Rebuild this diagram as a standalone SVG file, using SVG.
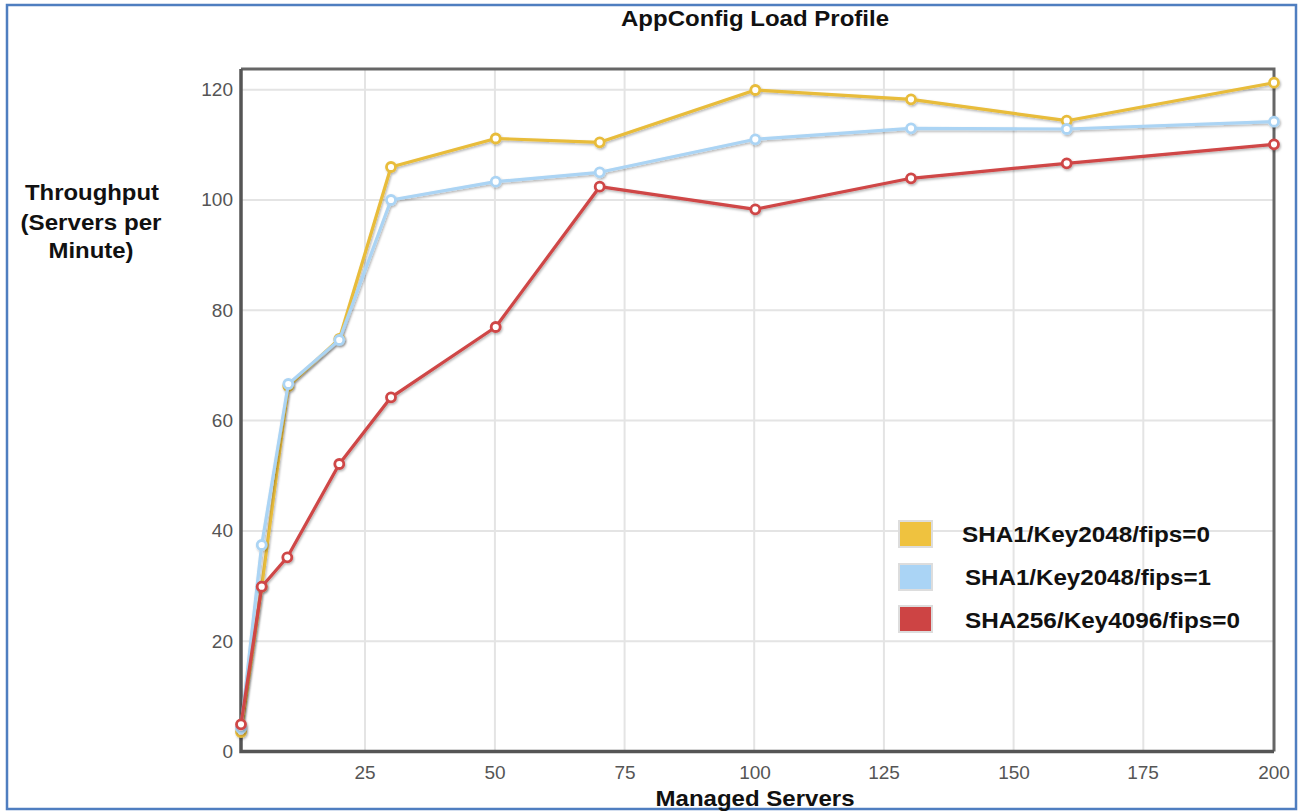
<svg xmlns="http://www.w3.org/2000/svg" width="1299" height="811" viewBox="0 0 1299 811">
<style>
.grid{stroke:#e4e4e4;stroke-width:2;fill:none}
.tick{font-family:"Liberation Sans",Arial,sans-serif;font-size:19px;fill:#555}
.lbl{font-family:"Liberation Sans",Arial,sans-serif;font-weight:bold;fill:#111}
.s{fill:none;stroke-width:3.2;stroke-linejoin:round}
.m{fill:#fff;stroke-width:2.8}
.y{stroke:#E8BC3A}
.b{stroke:#ABD4F4}
.r{stroke:#CF4646}
</style>
<defs>
<filter id="sh" x="-5%" y="-5%" width="110%" height="110%">
<feDropShadow dx="1" dy="1.5" stdDeviation="1" flood-color="#000" flood-opacity="0.3"/>
</filter>
</defs>
<rect x="0" y="0" width="1299" height="811" fill="#fff"/>
<rect x="7" y="5" width="1289" height="804" fill="none" stroke="#4F7EC0" stroke-width="2.5"/>
<text class="lbl" x="755" y="26" font-size="22" text-anchor="middle" textLength="268" lengthAdjust="spacingAndGlyphs">AppConfig Load Profile</text>
<g id="yaxis-title" class="lbl" font-size="22" text-anchor="middle">
<text x="92" y="200" textLength="134" lengthAdjust="spacingAndGlyphs">Throughput</text>
<text x="91" y="230" textLength="141" lengthAdjust="spacingAndGlyphs">(Servers per</text>
<text x="91" y="258" textLength="85" lengthAdjust="spacingAndGlyphs">Minute)</text>
</g>
<text class="lbl" x="755" y="806" font-size="22" text-anchor="middle" textLength="199" lengthAdjust="spacingAndGlyphs">Managed Servers</text>
<g id="grid">
<path class="grid" d="M365 69V751.5M494.9 69V751.5M624.6 69V751.5M754.2 69V751.5M883.9 69V751.5M1013.6 69V751.5M1143.3 69V751.5"/>
<path class="grid" d="M241 641.2H1274M241 530.9H1274M241 420.6H1274M241 310.3H1274M241 200H1274M241 89.7H1274"/>
</g>
<g id="frame">
<path d="M241 69H1274V751.5" fill="none" stroke="#666" stroke-width="3"/>
<path d="M241 69V751.5H1274" fill="none" stroke="#555" stroke-width="3.5"/>
</g>
<g id="ylabels" class="tick" text-anchor="end">
<text x="233" y="758">0</text>
<text x="233" y="648">20</text>
<text x="233" y="537">40</text>
<text x="233" y="427">60</text>
<text x="233" y="317">80</text>
<text x="233" y="206">100</text>
<text x="233" y="96">120</text>
</g>
<g id="xlabels" class="tick" text-anchor="middle">
<text x="365" y="779">25</text>
<text x="495" y="779">50</text>
<text x="625" y="779">75</text>
<text x="755" y="779">100</text>
<text x="884" y="779">125</text>
<text x="1014" y="779">150</text>
<text x="1143" y="779">175</text>
<text x="1274" y="779">200</text>
</g>
<g id="series-sha1-fips0" filter="url(#sh)">
<polyline class="s y" points="241,732 261.7,586.5 288.3,386 339.3,339 391,167 495.7,138.5 599.7,142.3 755.3,90 911,99.3 1066.7,120.7 1274,82.7"/>
<g class="m y">
<circle cx="241" cy="732" r="4.5"/><circle cx="261.7" cy="586.5" r="4.5"/><circle cx="288.3" cy="386" r="4.5"/><circle cx="339.3" cy="339" r="4.5"/><circle cx="391" cy="167" r="4.5"/><circle cx="495.7" cy="138.5" r="4.5"/><circle cx="599.7" cy="142.3" r="4.5"/><circle cx="755.3" cy="90" r="4.5"/><circle cx="911" cy="99.3" r="4.5"/><circle cx="1066.7" cy="120.7" r="4.5"/><circle cx="1274" cy="82.7" r="4.5"/>
</g>
</g>
<g id="series-sha1-fips1" filter="url(#sh)">
<polyline class="s b" points="241,728 261.7,545 288.3,384 339.3,340 391,200 495.7,181.7 599.7,172.3 755.3,139.3 911,128.3 1066.7,129 1274,121.7"/>
<g class="m b">
<circle cx="241" cy="728" r="4.5"/><circle cx="261.7" cy="545" r="4.5"/><circle cx="288.3" cy="384" r="4.5"/><circle cx="339.3" cy="340" r="4.5"/><circle cx="391" cy="200" r="4.5"/><circle cx="495.7" cy="181.7" r="4.5"/><circle cx="599.7" cy="172.3" r="4.5"/><circle cx="755.3" cy="139.3" r="4.5"/><circle cx="911" cy="128.3" r="4.5"/><circle cx="1066.7" cy="129" r="4.5"/><circle cx="1274" cy="121.7" r="4.5"/>
</g>
</g>
<g id="series-sha256-fips0" filter="url(#sh)">
<polyline class="s r" points="241,724.3 261.7,586.7 287.3,557.3 339.3,464 391,397.3 495.7,327 599.7,186.7 755.3,209.3 911,178.3 1066.7,163.3 1274,144.3"/>
<g class="m r">
<circle cx="241" cy="724.3" r="4.5"/><circle cx="261.7" cy="586.7" r="4.5"/><circle cx="287.3" cy="557.3" r="4.5"/><circle cx="339.3" cy="464" r="4.5"/><circle cx="391" cy="397.3" r="4.5"/><circle cx="495.7" cy="327" r="4.5"/><circle cx="599.7" cy="186.7" r="4.5"/><circle cx="755.3" cy="209.3" r="4.5"/><circle cx="911" cy="178.3" r="4.5"/><circle cx="1066.7" cy="163.3" r="4.5"/><circle cx="1274" cy="144.3" r="4.5"/>
</g>
</g>
<g id="legend" class="lbl" font-size="22">
<rect x="899" y="521" width="33" height="26" fill="#EFC23F" stroke="#ddd" stroke-width="2"/>
<rect x="899" y="564" width="33" height="26" fill="#AAD4F5" stroke="#ddd" stroke-width="2"/>
<rect x="899" y="606" width="33" height="26" fill="#CD4444" stroke="#ddd" stroke-width="2"/>
<text x="962" y="542" textLength="248" lengthAdjust="spacingAndGlyphs">SHA1/Key2048/fips=0</text>
<text x="965" y="585" textLength="246" lengthAdjust="spacingAndGlyphs">SHA1/Key2048/fips=1</text>
<text x="965" y="628" textLength="275" lengthAdjust="spacingAndGlyphs">SHA256/Key4096/fips=0</text>
</g>
</svg>
